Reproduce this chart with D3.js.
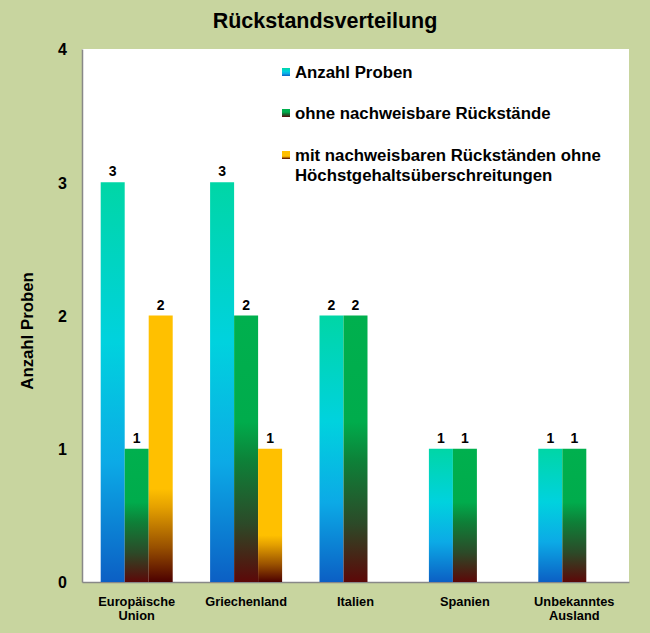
<!DOCTYPE html>
<html>
<head>
<meta charset="utf-8">
<script src="https://cdn.jsdelivr.net/npm/d3@7"></script>
<style>
  body { margin: 0; background: #c8d59f; }
  text { font-family: "Liberation Sans", Arial, sans-serif; font-weight: bold; fill: #000; }
</style>
</head>
<body>
<div id="chart"></div>
<script>
// data
var categories = ["Europäische Union", "Griechenland", "Italien", "Spanien", "Unbekanntes Ausland"];
var categoryLines = [["Europäische", "Union"], ["Griechenland"], ["Italien"], ["Spanien"], ["Unbekanntes", "Ausland"]];
var seriesNames = ["Anzahl Proben", "ohne nachweisbare Rückstände", "mit nachweisbaren Rückständen ohne Höchstgehaltsüberschreitungen"];
var anzahlProben = [3, 3, 2, 1, 1];
var ohneRueckstaende = [1, 2, 2, 1, 1];
var mitRueckstaenden = [2, 1, 0, 0, 0];
var yTicks = [0, 1, 2, 3, 4];

var svgWidth = 650;
var svgHeight = 633;

var chartMargin = { top: 49, right: 21, bottom: 51, left: 82 };
var chartWidth = svgWidth - chartMargin.left - chartMargin.right;
var chartHeight = svgHeight - chartMargin.top - chartMargin.bottom;

var svg = d3.select("#chart")
  .append("svg")
  .attr("width", svgWidth)
  .attr("height", svgHeight);

svg.append("rect")
  .attr("width", svgWidth)
  .attr("height", svgHeight)
  .attr("fill", "#c8d59f");

// gradients, one per series
var defs = svg.append("defs");
var gradStops = [
  [[0, "#00d6a6"], [0.4, "#00d2de"], [0.7, "#0caae6"], [1, "#0c5fc4"]],
  [[0, "#00b04e"], [0.4, "#00ac4c"], [0.55, "#0e8038"], [0.78, "#2c4a28"], [1, "#5c0808"]],
  [[0, "#ffc000"], [0.65, "#ffc000"], [0.72, "#e4a000"], [0.87, "#985000"], [1, "#4c0000"]]
];
gradStops.forEach(function(stops, i) {
  var g = defs.append("linearGradient")
    .attr("id", "grad" + i)
    .attr("x1", 0).attr("y1", 0)
    .attr("x2", 0).attr("y2", 1);
  stops.forEach(function(s) {
    g.append("stop").attr("offset", s[0]).attr("stop-color", s[1]);
  });
});

var chartGroup = svg.append("g")
  .attr("transform", `translate(${chartMargin.left}, ${chartMargin.top})`);

chartGroup.append("rect")
  .attr("width", chartWidth)
  .attr("height", chartHeight)
  .attr("fill", "#ffffff");

// scales
var xBandScale = d3.scaleBand()
  .domain(categories)
  .range([0, chartWidth]);

var xInner = d3.scaleBand()
  .domain(d3.range(seriesNames.length))
  .range([0, 72]);

var yLinearScale = d3.scaleLinear()
  .domain([0, 4])
  .range([chartHeight, 0]);

// axes
var leftAxis = d3.axisLeft(yLinearScale)
  .tickValues(yTicks)
  .tickSize(0)
  .tickPadding(15)
  .tickFormat(d3.format("d"));

var yAxis = chartGroup.append("g").call(leftAxis);
yAxis.select(".domain").attr("stroke", "#888888").attr("stroke-width", 1.5);
yAxis.selectAll("text").style("font-size", "16px").attr("dy", "0.36em");

var bottomAxis = d3.axisBottom(xBandScale).tickSize(0).tickFormat("");
var xAxis = chartGroup.append("g")
  .attr("transform", `translate(0, ${chartHeight})`)
  .call(bottomAxis);
xAxis.select(".domain").attr("stroke", "#888888").attr("stroke-width", 1.5);

// category labels
categories.forEach(function(c, i) {
  var t = chartGroup.append("text")
    .attr("x", xBandScale(c) + xBandScale.bandwidth() / 2)
    .attr("y", chartHeight + 24)
    .attr("text-anchor", "middle")
    .style("font-size", "12.8px");
  categoryLines[i].forEach(function(line, j) {
    t.append("tspan")
      .attr("x", xBandScale(c) + xBandScale.bandwidth() / 2)
      .attr("dy", j === 0 ? 0 : 14)
      .text(line);
  });
});

// bars
var allSeries = [anzahlProben, ohneRueckstaende, mitRueckstaenden];
var rows = [];
allSeries.forEach(function(values, s) {
  values.forEach(function(v, i) {
    rows.push({ cat: categories[i], s: s, value: v });
  });
});

var groupOffset = (xBandScale.bandwidth() - 72) / 2;

chartGroup.selectAll(".bar")
  .data(rows.filter(d => d.value > 0))
  .enter()
  .append("rect")
  .attr("class", "bar")
  .attr("x", d => xBandScale(d.cat) + groupOffset + xInner(d.s))
  .attr("y", d => yLinearScale(d.value))
  .attr("width", xInner.bandwidth())
  .attr("height", d => chartHeight - yLinearScale(d.value))
  .attr("fill", d => "url(#grad" + d.s + ")");

chartGroup.selectAll(".barlabel")
  .data(rows.filter(d => d.value > 0))
  .enter()
  .append("text")
  .attr("class", "barlabel")
  .attr("x", d => xBandScale(d.cat) + groupOffset + xInner(d.s) + xInner.bandwidth() / 2)
  .attr("y", d => yLinearScale(d.value) - 6)
  .attr("text-anchor", "middle")
  .style("font-size", "14px")
  .text(d => d.value);

// legend
var legendLines = [["Anzahl Proben"], ["ohne nachweisbare Rückstände"], ["mit nachweisbaren Rückständen ohne", "Höchstgehaltsüberschreitungen"]];
var legendY = [72, 113, 155];
legendLines.forEach(function(lines, i) {
  svg.append("rect")
    .attr("x", 282)
    .attr("y", legendY[i] - 4)
    .attr("width", 8)
    .attr("height", 8)
    .attr("fill", "url(#grad" + i + ")");
  var t = svg.append("text")
    .attr("x", 295)
    .attr("y", legendY[i] + 6)
    .style("font-size", "16.8px");
  lines.forEach(function(line, j) {
    t.append("tspan")
      .attr("x", 295)
      .attr("dy", j === 0 ? 0 : 20)
      .text(line);
  });
});

// title
svg.append("text")
  .attr("x", 325)
  .attr("y", 28)
  .attr("text-anchor", "middle")
  .style("font-size", "21.5px")
  .text("Rückstandsverteilung");

// y-axis label
svg.append("text")
  .attr("transform", "rotate(-90)")
  .attr("y", 27)
  .attr("x", -331)
  .attr("dy", "0.36em")
  .style("text-anchor", "middle")
  .style("font-size", "16.8px")
  .text("Anzahl Proben");
</script>
</body>
</html>
